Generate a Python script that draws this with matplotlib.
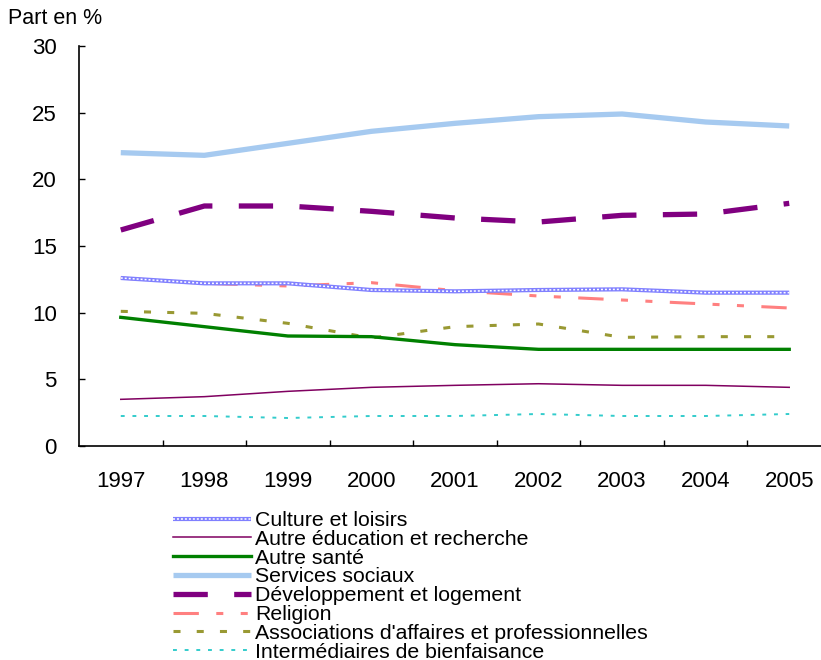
import matplotlib
matplotlib.use("Agg")
import matplotlib.pyplot as plt
from matplotlib.lines import Line2D
from matplotlib.legend_handler import HandlerTuple

plt.rcParams['font.family'] = ['Liberation Sans', 'DejaVu Sans']

years = ["1997", "1998", "1999", "2000", "2001", "2002", "2003", "2004", "2005"]

culture = [12.6, 12.2, 12.2, 11.7, 11.6, 11.7, 11.75, 11.5, 11.5]
education = [3.5, 3.7, 4.1, 4.4, 4.55, 4.67, 4.55, 4.55, 4.4]
sante = [9.65, 8.95, 8.25, 8.2, 7.6, 7.25, 7.25, 7.25, 7.25]
sociaux = [22.0, 21.8, 22.7, 23.6, 24.2, 24.7, 24.9, 24.3, 24.0]
developpement = [16.2, 18.0, 18.0, 17.6, 17.1, 16.8, 17.3, 17.4, 18.2]
religion = [12.6, 12.2, 12.0, 12.25, 11.65, 11.25, 10.95, 10.65, 10.35]
associations = [10.1, 9.95, 9.2, 8.1, 8.95, 9.15, 8.15, 8.2, 8.2]
intermediaires = [2.25, 2.25, 2.1, 2.25, 2.25, 2.4, 2.25, 2.25, 2.4]

fig = plt.figure(figsize=(8.21, 6.60), dpi=100)
ax = fig.add_axes([79/821, 1-446/660, 752/821, 400/660])

x = list(range(len(years)))

ax.plot(x, sociaux, color='#a6caf0', lw=3.8, solid_capstyle='butt', label='Services sociaux', zorder=3)
ax.plot(x, developpement, color='#800080', lw=3.8, dashes=(6.5, 5), label='Développement et logement', zorder=3)
ax.plot(x, religion, color='#ff8080', lw=2.2, dashes=(8.3, 5.7, 2.3, 5.7, 2.3, 5.7), label='Religion', zorder=4)
ax.plot(x, associations, color='#999933', lw=2.2, dashes=(2.3, 5.3), label="Associations d'affaires et professionnelles", zorder=4)
ax.plot(x, sante, color='#008000', lw=2.4, label='Autre santé', zorder=4)
ax.plot(x, education, color='#800060', lw=1.1, label='Autre éducation et recherche', zorder=4)
ax.plot(x, intermediaires, color='#33cccc', lw=1.4, dashes=(2, 4), label='Intermédiaires de bienfaisance', zorder=4)
# culture: chain-like line
ax.plot(x, culture, color='#8080ff', lw=3.0, zorder=5, solid_capstyle='butt')
ax.plot(x, culture, color='white', lw=1.1, dashes=(1.3, 1.3), zorder=6)

ax.set_xlim(-0.5, 8.5)
ax.set_ylim(0, 30)
ax.set_yticks([0, 5, 10, 15, 20, 25, 30])
ax.set_xticks([i + 0.5 for i in range(8)])
ax.set_xticklabels([])
ax.set_xticks(x, minor=True)
ax.set_xticklabels(years, minor=True)
ax.tick_params(axis='x', which='minor', length=0, pad=18, labelsize=16)
ax.tick_params(axis='x', which='major', direction='in', length=4, width=1)
ax.tick_params(axis='y', direction='in', length=4, width=1, pad=16, labelsize=16)
for s in ['top', 'right']:
    ax.spines[s].set_visible(False)
ax.spines['left'].set_linewidth(1.2)
ax.spines['bottom'].set_linewidth(1.2)
ax.spines['bottom'].set_clip_on(False)

fig.text(8/821, 1-19/660, 'Part en %', fontsize=15.5, va='center', ha='left')

# legend
h_cult = (Line2D([], [], color='#8080ff', lw=3.0, solid_capstyle='butt'),
          Line2D([], [], color='white', lw=1.1, dashes=(1.3, 1.3)))
handles, labels = ax.get_legend_handles_labels()
hd = dict(zip(labels, handles))
order = ['Autre éducation et recherche', 'Autre santé', 'Services sociaux',
         'Développement et logement', 'Religion',
         "Associations d'affaires et professionnelles", 'Intermédiaires de bienfaisance']
leg_handles = [h_cult] + [hd[o] for o in order]
leg_labels = ['Culture et loisirs'] + order
fig.legend(leg_handles, leg_labels, loc='upper left',
           bbox_to_anchor=(173/821, 1-511/660), frameon=False,
           fontsize=15.3, handlelength=3.65, handletextpad=0.2,
           labelspacing=-0.01, borderpad=0, borderaxespad=0,
           handler_map={tuple: HandlerTuple(ndivide=1, pad=0)})

fig.savefig('out.png', dpi=100)
